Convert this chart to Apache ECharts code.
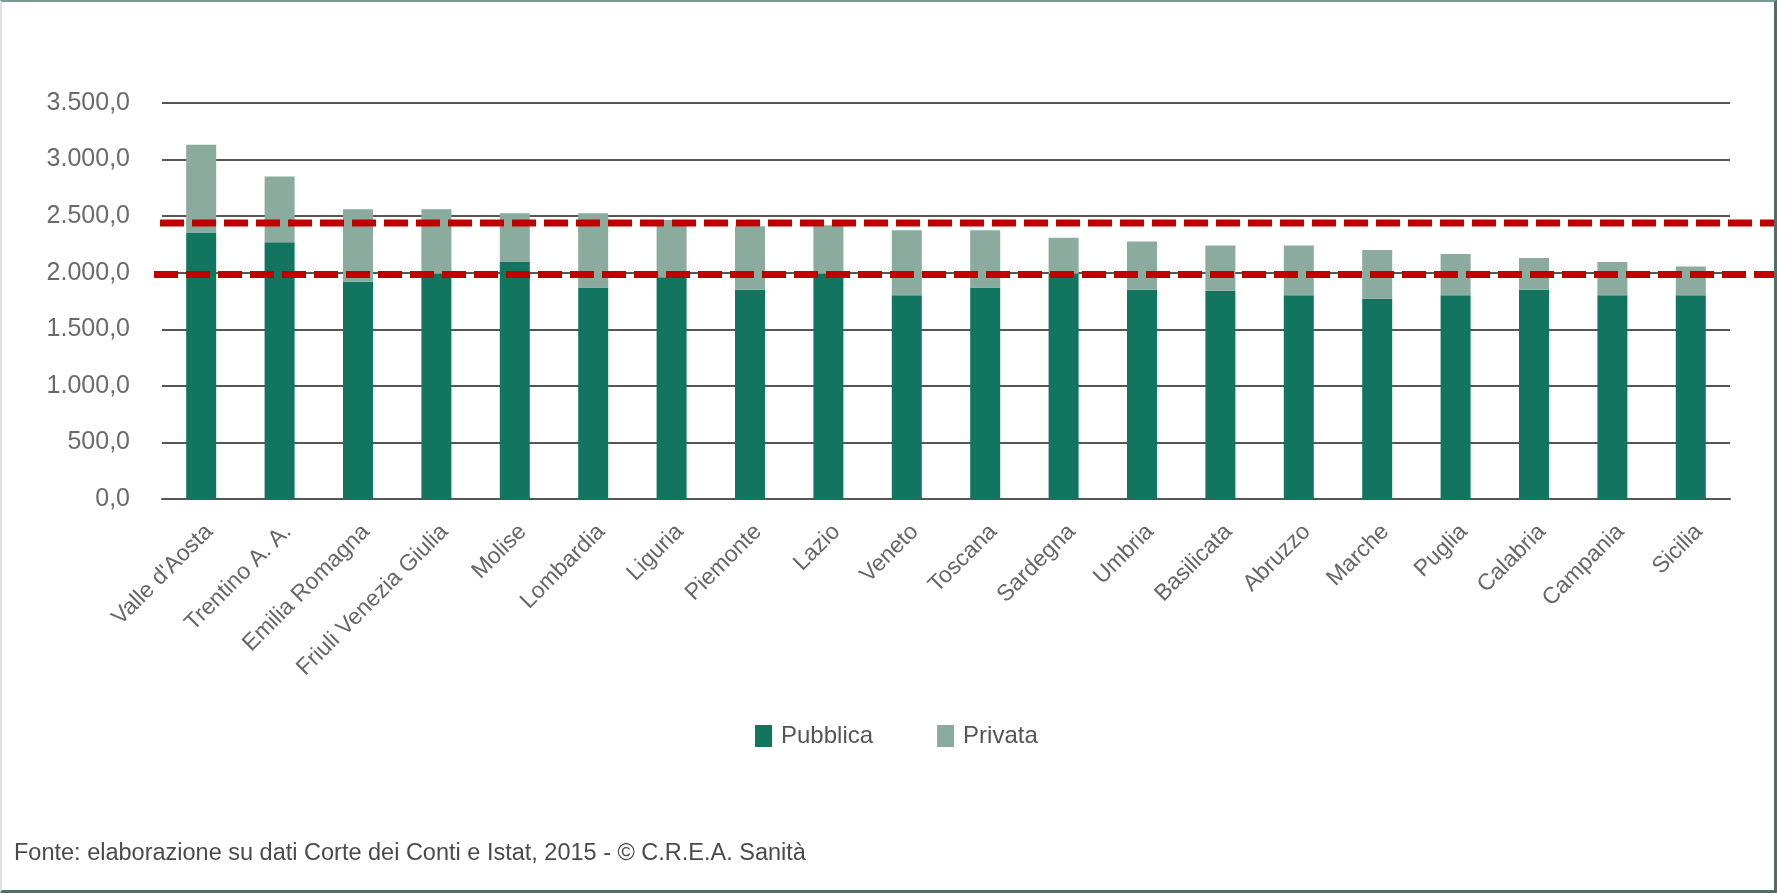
<!DOCTYPE html>
<html><head><meta charset="utf-8">
<script src="https://cdn.jsdelivr.net/npm/echarts@6/dist/echarts.min.js"></script>
<style>
html,body{margin:0;padding:0;background:#fff;overflow:hidden;}
#chart{position:absolute;left:0;top:0;width:1777px;height:893px;}
#frame{position:absolute;left:0;top:0;width:1777px;height:893px;box-sizing:border-box;pointer-events:none;
 border-top:2px solid #7a9b93;border-right:3px solid #4d6f66;border-bottom:3px solid #4d6f66;border-left:2px solid #dde2e0;}
</style></head><body>
<div id="chart"></div><div id="frame"></div>
<script>
const categories = ["Valle d'Aosta","Trentino A. A.","Emilia Romagna","Friuli Venezia Giulia","Molise","Lombardia","Liguria","Piemonte","Lazio","Veneto","Toscana","Sardegna","Umbria","Basilicata","Abruzzo","Marche","Puglia","Calabria","Campania","Sicilia"];
const pubblica = [2350,2270,1920,1990,2100,1870,1960,1850,1990,1800,1870,1990,1850,1840,1800,1770,1800,1850,1800,1800];
const privata  = [780,580,640,570,425,655,505,560,430,575,505,320,425,400,440,430,365,280,295,255];
const refLines = [2440,1985];
const yTicks = {min:0, max:3500, interval:500};
const seriesNames = ["Pubblica","Privata"];
const sourceText = "Fonte: elaborazione su dati Corte dei Conti e Istat, 2015 - © C.R.E.A. Sanità";

const FONT = "'Liberation Sans',Arial,sans-serif";
function fmtIt(v){
  const s = v.toFixed(1).split('.');
  const int = s[0].replace(/\B(?=(\d{3})+(?!\d))/g,'.');
  return int + ',' + s[1];
}
const gridTop = 103, gridBottom = 394;
const chart = echarts.init(document.getElementById('chart'), null, {renderer:'canvas'});
const refGridLefts = [160,154];
const option = {
  animation:false,
  backgroundColor:'#ffffff',
  title:{text:sourceText,left:14,top:842,padding:0,textStyle:{fontFamily:FONT,fontSize:23.5,fontWeight:'normal',color:'#4a4a4a'}},
  legend:{data:seriesNames,left:755,top:724,padding:0,itemWidth:17,itemHeight:22,itemGap:64,
    icon:'rect',textStyle:{fontFamily:FONT,fontSize:24,color:'#555',padding:[0,0,0,4]}},
  grid:[
    {left:162,right:47,top:gridTop,bottom:gridBottom,containLabel:false},
    {left:refGridLefts[0],right:0,top:gridTop,bottom:gridBottom,containLabel:false},
    {left:refGridLefts[1],right:0,top:gridTop,bottom:gridBottom,containLabel:false}
  ],
  xAxis:[
    {type:'category',data:categories,gridIndex:0,
      axisLine:{show:true,lineStyle:{color:'#555',width:2}},axisTick:{show:false},
      axisLabel:{rotate:45,margin:21,interval:0,verticalAlign:'top',fontFamily:FONT,fontSize:23,color:'#666'}},
    {type:'value',gridIndex:1,min:0,max:1,show:false},
    {type:'value',gridIndex:2,min:0,max:1,show:false}
  ],
  yAxis:[
    {type:'value',gridIndex:0,min:yTicks.min,max:yTicks.max,interval:yTicks.interval,
      axisLine:{show:false},axisTick:{show:false},
      splitLine:{show:true,lineStyle:{color:'#555',width:2}},
      axisLabel:{margin:32,fontFamily:FONT,fontSize:25,color:'#6a6a6a',formatter:fmtIt}},
    {type:'value',gridIndex:1,min:yTicks.min,max:yTicks.max,show:false},
    {type:'value',gridIndex:2,min:yTicks.min,max:yTicks.max,show:false}
  ],
  series:[
    {name:seriesNames[0],type:'bar',stack:'tot',data:pubblica,barWidth:30,itemStyle:{color:'#117560'},xAxisIndex:0,yAxisIndex:0},
    {name:seriesNames[1],type:'bar',stack:'tot',data:privata,barWidth:30,itemStyle:{color:'#8aab9d'},xAxisIndex:0,yAxisIndex:0},
    {type:'line',xAxisIndex:1,yAxisIndex:1,data:[[0,refLines[0]],[1,refLines[0]]],showSymbol:false,z:10,silent:true,
      lineStyle:{color:'#c00000',width:7,type:[24,8]}},
    {type:'line',xAxisIndex:2,yAxisIndex:2,data:[[0,refLines[1]],[1,refLines[1]]],showSymbol:false,z:10,silent:true,
      lineStyle:{color:'#c00000',width:7,type:[24,8]}}
  ]
};
chart.setOption(option);
</script>
</body></html>
